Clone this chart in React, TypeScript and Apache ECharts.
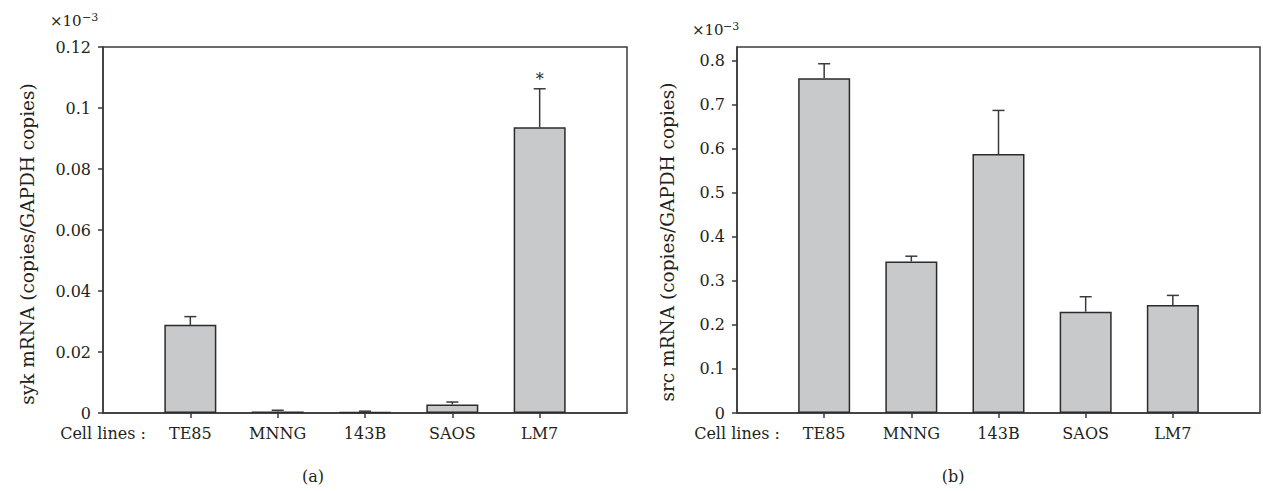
import React, { useEffect, useRef } from "react";
import * as echarts from "echarts";

const cellLines = ["Cell lines :", "TE85", "MNNG", "143B", "SAOS", "LM7", ""];
const sykMean = [null, 0.0289, 0.0005, 0.0003, 0.0028, 0.0937, null];
const sykErr = [null, 0.0027, 0.0004, 0.0003, 0.0008, 0.0126, null];
const sykMarks = ["", "", "", "", "", "*", ""];
const srcMean = [null, 0.76, 0.344, 0.588, 0.23, 0.245, null];
const srcErr = [null, 0.033, 0.012, 0.099, 0.034, 0.022, null];
const srcMarks = ["", "", "", "", "", "", ""];
const sykTicks = [0, 0.02, 0.04, 0.06, 0.08, 0.1, 0.12];
const srcTicks = [0, 0.1, 0.2, 0.3, 0.4, 0.5, 0.6, 0.7, 0.8];
const sykTitle = "syk mRNA (copies/GAPDH copies)";
const srcTitle = "src mRNA (copies/GAPDH copies)";

const FONT = '"DejaVu Serif", serif';
const TXT = "#231f20";
const AX = "#3a3a3a";

export default function App() {
  const ref = useRef<HTMLDivElement>(null);
  useEffect(() => {
    if (!ref.current) return;
    const chart = echarts.init(ref.current, null, { renderer: "svg" });

    const xAxisBase = (gridIndex: number) => ({
      type: "category",
      gridIndex,
      data: cellLines,
      boundaryGap: false,
      axisLine: { lineStyle: { color: AX, width: 1.5 } },
      axisTick: {
        show: true,
        length: 5,
        lineStyle: { color: AX, width: 1.5 },
        interval: (i: number) => i > 0 && i < cellLines.length - 1,
      },
      axisLabel: { interval: 0, margin: 12, color: TXT, fontFamily: FONT, fontSize: 16 },
      splitLine: { show: false },
    });

    const yAxisBase = (gridIndex: number, max: number, ticks: number[]) => ({
      type: "value",
      gridIndex,
      min: 0,
      max,
      axisLine: { show: true, lineStyle: { color: AX, width: 1.5 } },
      axisTick: { show: true, length: 5, lineStyle: { color: AX, width: 1.5 }, customValues: ticks },
      axisLabel: { margin: 12, color: TXT, fontFamily: FONT, fontSize: 16, customValues: ticks },
      splitLine: { show: false },
    });

    const barSeries = (idx: number, means: (number | null)[]) => ({
      type: "bar",
      xAxisIndex: idx,
      yAxisIndex: idx,
      barWidth: 52,
      data: cellLines.map((c, i) => means[i]),
      itemStyle: { color: "#c8c9cb", borderColor: "#2b2b2b", borderWidth: 1.5 },
      z: 2,
    });

    const errSeries = (idx: number, means: (number | null)[], errs: (number | null)[], marks: string[]) => ({
      type: "custom",
      xAxisIndex: idx,
      yAxisIndex: idx,
      z: 3,
      data: cellLines
        .map((c, i) => (means[i] == null ? null : [i, means[i], (means[i] as number) + (errs[i] as number), marks[i]]))
        .filter((d) => d != null),
      renderItem: (params: any, api: any) => {
        const x = api.value(0);
        const p0 = api.coord([x, api.value(1)]);
        const p1 = api.coord([x, api.value(2)]);
        const mark = marks[x];
        const children: any[] = [
          { type: "line", shape: { x1: p0[0], y1: p0[1], x2: p1[0], y2: p1[1] }, style: { stroke: AX, lineWidth: 1.5 } },
          { type: "line", shape: { x1: p1[0] - 6, y1: p1[1], x2: p1[0] + 6, y2: p1[1] }, style: { stroke: AX, lineWidth: 1.5 } },
        ];
        if (mark) {
          children.push({
            type: "text",
            x: p1[0],
            y: p1[1] - 9,
            style: { text: mark, fill: TXT, fontFamily: FONT, fontSize: 16, align: "center", verticalAlign: "middle", textAlign: "center", textVerticalAlign: "middle" },
          });
        }
        return { type: "group", children };
      },
    });

    const txt = (text: string, x: number, y: number, size: number, align = "center", rotation = 0) => ({
      type: "text",
      x,
      y,
      rotation,
      style: {
        text,
        fill: TXT,
        fontFamily: FONT,
        fontSize: size,
        align,
        verticalAlign: "middle",
        textAlign: align,
        textVerticalAlign: "middle",
      },
    });

    chart.setOption({
      animation: false,
      grid: [
        { left: 103, top: 47, width: 524, height: 366, show: true, borderColor: AX, borderWidth: 1.5, backgroundColor: "transparent" },
        { left: 737, top: 47, width: 524, height: 366, show: true, borderColor: AX, borderWidth: 1.5, backgroundColor: "transparent" },
      ],
      xAxis: [xAxisBase(0), xAxisBase(1)],
      yAxis: [yAxisBase(0, 0.12, sykTicks), yAxisBase(1, 0.831, srcTicks)],
      series: [
        barSeries(0, sykMean),
        errSeries(0, sykMean, sykErr, sykMarks),
        barSeries(1, srcMean),
        errSeries(1, srcMean, srcErr, srcMarks),
      ],
      graphic: [
        txt(sykTitle, 27, 244, 18.5, "center", Math.PI / 2),
        txt(srcTitle, 667, 242, 18.5, "center", Math.PI / 2),
        txt("×10", 50, 21, 15, "left"),
        txt("−3", 82, 17, 11, "left"),
        txt("×10", 692, 30, 15, "left"),
        txt("−3", 723, 26, 11, "left"),
        txt("(a)", 313, 476, 16),
        txt("(b)", 953, 476, 16),
      ],
    });
    return () => chart.dispose();
  }, []);
  return (
    <div
      ref={ref}
      style={{ position: "fixed", left: 0, top: 0, width: 1263, height: 491, background: "#fff" }}
    />
  );
}
